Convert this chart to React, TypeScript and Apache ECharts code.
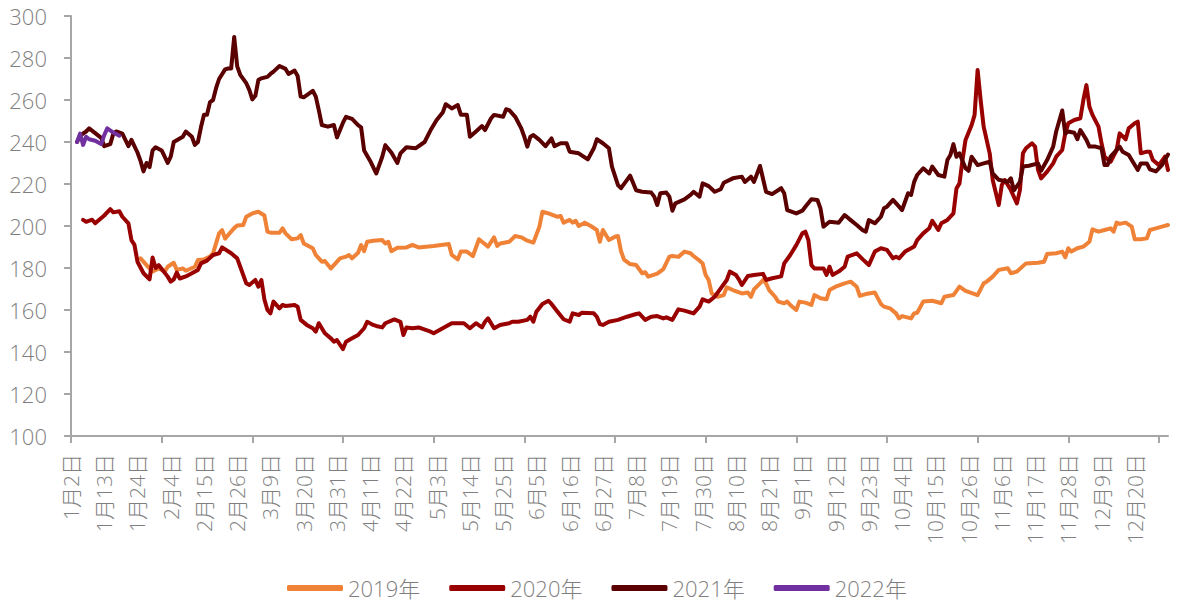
import React, { useEffect, useRef } from "react";
import * as echarts from "echarts";

// Calendar categories (non-leap year), 1月2日 … 12月31日
const monthLengths = [31, 28, 31, 30, 31, 30, 31, 31, 30, 31, 30, 31];
const categories: string[] = [];
monthLengths.forEach((len, m) => {
  for (let d = 1; d <= len; d++) {
    if (m === 0 && d === 1) continue;
    categories.push(`${m + 1}月${d}日`);
  }
});

const seriesNames = ["2019年", "2020年", "2021年", "2022年"];
const seriesColors = ["#EF8236", "#990000", "#5A0000", "#7030A0"];

// Day indices (position in categories) and values
const days2019 = [23,25,27,29,31,32,34,35,37,38,41,42,44,46,47,49,50,51,52,54,55,57,58,60,62,64,65,66,69,70,71,73,75,76,77,80,81,83,84,86,87,89,91,92,93,95,96,97,98,100,103,104,105,106,108,111,113,115,120,125,126,128,129,131,133,135,136,138,140,141,142,145,147,149,151,153,155,156,158,161,162,163,165,166,167,168,170,172,174,175,176,178,180,181,182,183,185,187,189,190,191,194,196,198,199,201,203,205,206,208,209,210,211,212,214,216,217,219,222,224,225,226,228,229,230,231,233,234,236,237,238,240,241,243,245,246,248,250,251,253,256,258,260,261,263,266,268,269,271,273,274,275,278,279,280,282,285,288,289,292,294,296,300,302,303,305,307,310,311,313,316,320,322,323,326,328,329,330,331,333,335,337,338,340,342,344,345,346,347,349,351,352,354,356,357,359,361,363];
const vals2019 = [184.6,181.4,178.3,179.8,178.3,180.6,182.5,179.1,179.8,178.7,180.6,183.8,184.1,185.4,187,196.5,198,194,195.7,199,200.2,200.5,204.4,206,206.8,205,197.3,196.8,196.8,198.9,196.5,193.7,194.1,195.7,191.7,189.4,186.2,183,183.3,179.8,181.4,184.6,185.4,186.2,184.6,187.3,190.9,188,192.5,193,193.3,191.7,192.5,188,189.6,189.8,191,189.8,190.5,191.4,186.2,184.1,187.8,187.8,185.7,193.7,192.5,190.2,194.6,190.5,191.7,192.5,195.2,194.6,193,192.1,199.7,206.8,206,204.4,204.8,201.6,202.9,201.6,202.5,200,201.6,200,198.1,192.5,198.1,193.3,194.9,195.2,188,184,181.9,181.4,177.5,178,175.9,177.3,179.5,185.4,185.7,185.3,187.8,187,185.7,183.5,182.2,176.7,174.3,167.9,166.3,167.1,170.8,169.5,167.9,168.3,166.3,169.8,172.7,174.3,172.7,169.5,166.3,164,163.2,164,162.4,160,164,163.5,162.4,167.1,165.6,165.1,169.5,171.1,172.7,173.5,171.1,166.7,167.6,168.3,162.9,161.6,160.8,158.4,156,157.1,156,158.4,158.7,164,164.4,163.2,166.3,167.1,171.1,169.1,167.1,172.7,173.5,175.9,179.1,179.9,177.5,178.3,182.2,182.5,183,186.7,187,187.8,185.1,189.4,187.8,189.4,190.2,192.5,198.4,197.3,198.1,198.9,197.3,201.6,201,201.6,199.7,193.7,193.7,194.1,198.1,198.9,199.7,200.5];

const days2020 = [4,5,7,8,11,13,14,16,17,19,20,21,22,24,26,27,28,29,32,33,34,35,36,38,40,42,43,45,47,49,50,53,55,56,58,59,61,62,63,64,65,66,67,69,70,71,74,75,76,78,80,81,82,84,86,87,88,90,91,93,95,97,98,100,101,103,104,107,109,110,111,113,115,119,120,123,126,130,132,134,136,137,138,140,142,145,146,148,151,152,153,154,156,158,159,161,163,165,166,168,169,173,174,175,176,178,181,184,187,188,190,192,194,196,197,199,201,203,206,208,209,211,213,215,217,218,220,221,222,224,226,229,230,232,235,236,238,240,242,243,244,245,246,249,250,251,252,254,256,257,260,262,264,266,268,270,272,273,274,276,278,279,280,282,284,285,287,288,290,292,293,294,295,296,298,299,300,301,302,304,305,307,308,309,311,313,314,315,316,318,319,320,321,323,325,326,328,329,330,332,334,335,336,337,338,340,341,342,344,346,347,349,350,352,353,354,356,357,358,360,362,363];
const vals2020 = [202.9,202,203,201.3,205,208,206.5,207,204.4,201.3,193.3,191,183,177.5,174.6,185,180,181.4,175.9,173.5,174.6,177.8,175,176,177.5,179.1,182.2,183.5,186.2,187,189.8,187,184.6,180.6,172.7,171.9,174.3,171.1,174.3,165,160,158.4,164,160.8,162.4,161.9,162.4,161.6,155.3,152.9,151.3,149.7,153.7,148.9,146.5,144.9,145.7,141.4,144.9,146.5,148.1,151.3,154.4,152.9,152.4,151.7,153.7,155.5,154.4,148.1,151.7,151.3,151.7,149.7,148.9,151.3,153.7,153.7,151.3,153.7,151.7,154.4,156,151.3,152.9,153.7,154.4,154.4,155.3,156.8,154.4,159.2,162.9,164.4,162.9,159.2,155.6,154.4,158.4,157.6,158.7,158.4,156.8,153.3,152.9,154.4,155.3,156.8,158.1,158.4,155.3,156.8,157.1,156,156.5,155.3,160.3,159.7,158.4,161.6,165.1,164,166.3,170.3,174.3,178.3,176.7,174.6,171.9,176.2,176.7,177.2,174.3,175.1,176,182.2,186.2,190.9,196.5,197.3,193.3,181.4,179.8,179.8,176.7,180.6,176.7,178.3,180.6,185.4,187,184.1,181.4,187.8,189.4,188.6,184.6,185.4,184.6,187.8,189.4,190.2,193.3,196.5,198.9,202.5,198.1,201.3,202.9,206,217.9,220.3,231.4,241,248,252.9,274.3,260,247.3,234.6,221.9,210,219.5,221.9,217.1,210.8,217.1,234.6,237,239.4,237.8,226.7,222.7,225.9,229.8,233,236.2,244.1,248.9,250.5,251.3,260,267.1,256.8,252.9,247.3,239.4,233,230.6,236.2,244.1,241.3,246.5,248.9,249.7,234.6,235.4,235.4,231.4,229,233,226.7];

const days2021 = [2,3,5,6,10,11,13,14,15,17,18,19,20,22,23,24,25,26,27,28,30,32,33,34,37,38,40,41,42,43,44,45,46,47,48,49,51,52,53,54,55,56,58,59,60,61,62,63,65,66,67,69,71,72,74,75,76,77,80,81,82,83,85,87,88,90,91,93,95,96,97,99,100,101,103,104,106,108,109,111,114,117,119,121,123,124,126,128,129,131,132,134,136,137,139,140,143,144,145,147,149,150,151,152,153,155,157,159,160,162,164,165,168,171,173,174,176,178,179,181,182,184,185,187,189,192,193,194,195,197,198,199,200,203,205,206,208,209,211,213,215,216,219,222,223,225,226,228,230,232,235,236,237,240,242,243,245,247,248,249,251,254,256,258,260,262,263,264,266,268,269,270,272,274,275,277,278,279,280,282,284,285,287,289,290,291,292,293,294,296,297,298,300,302,304,305,307,310,311,312,314,315,317,320,321,323,325,326,328,329,330,332,333,334,336,337,339,341,342,343,344,347,348,350,351,353,354,356,357,359,361,363];
const vals2021 = [240,243,245,246.5,242,238,239,244,245,244,241,238,241,235,231,226,230,228,236,237.5,236,230,233,240,242.5,245,242.5,238.6,240,247,253,253,259,260,265.6,270,274.6,275,275,290,276,272,268,264.8,260.3,262,269.5,270.3,271,272.4,273.5,276.2,274.8,272.4,274,271.4,261.6,261.3,264.4,261.6,255.2,248.1,247.3,248.1,242.2,249.2,252,251,248,247,236,231,228,225,233,238.5,235,230,234.6,237.5,237,240,245.7,250.5,254,258,256,257.6,253,253,242.5,245,247.6,245.7,251.3,252.9,252,255.6,255.2,252,246.5,242.5,237.8,242.5,243.3,241,238,241.7,238,239.4,239.4,235.4,234.6,231.7,237,241.3,239.4,237,228.3,219.5,218,222,224,217,216.3,215.9,214,210,215.6,215.9,214,207.3,210.8,212.7,214.8,216.3,214,220.3,219,216.3,217.5,220.6,222.7,223.5,221,223.5,221,228.6,216.3,215.2,218,215.6,207.6,206,207.3,209.2,212.7,212.4,208.4,199.7,202,201.6,205.2,202.8,200.5,198,197.3,202.8,201.3,204.4,208.4,209.2,212.4,209.2,207.6,215.6,214.8,221,224.3,227.5,225,228.3,224.3,223.5,231.4,233.8,239,233,234.6,227.5,226.3,233,229,229.8,230.6,225,222,221,222.7,217,221,228.3,228.7,229.8,226.3,231.4,237.8,245,255,244,245,244.4,241.3,245.7,241,237.8,237.8,237,229,229,233,237.8,235.4,233.8,231.4,226.7,229.8,229.8,227,226,229,234];

const days2022 = [2,3,4,5,6,8,10,11,12,14,16];
const vals2022 = [240,244,238.6,242.5,241.3,240.6,239,243.3,246.5,244.5,243];

const yMin = 100;
const yMax = 300;
const yStep = 20;
const labelEvery = 11;
const lastLabelIndex = 352; // 12月20日
const tickEvery = 30;

const font = "'Open Sans', 'Noto Sans CJK SC', sans-serif";
const textGray = "#7f7f7f";
const axisGray = "#a6a6a6";

function pairs(days: number[], vals: number[]) {
  return days.map((d, i) => [categories[d], vals[i]]);
}

export default function App() {
  const ref = useRef<HTMLDivElement>(null);
  useEffect(() => {
    if (!ref.current) return;
    const chart = echarts.init(ref.current, undefined, { renderer: "svg" });
    const allDays = [days2019, days2020, days2021, days2022];
    const allVals = [vals2019, vals2020, vals2021, vals2022];
    chart.setOption({
      animation: false,
      backgroundColor: "#ffffff",
      grid: { left: 71, right: 10, top: 16, bottom: 169, containLabel: false },
      legend: {
        data: seriesNames,
        left: 287,
        top: 577,
        padding: 0,
        itemGap: 29,
        itemWidth: 56,
        itemHeight: 6,
        icon: "roundRect",
        textStyle: { fontSize: 22, color: textGray, fontFamily: font, fontWeight: 300 },
      },
      xAxis: {
        type: "category",
        data: categories,
        boundaryGap: false,
        axisLine: { lineStyle: { color: axisGray, width: 2 } },
        axisTick: {
          interval: (i: number) => i % tickEvery === 0,
          length: 7,
          lineStyle: { color: axisGray, width: 2 },
        },
        axisLabel: {
          interval: (i: number) => i % labelEvery === 0 && i <= lastLabelIndex,
          rotate: 90,
          margin: 18,
          padding: [9, 0, 0, 0],
          fontSize: 21,
          color: textGray,
          fontFamily: font,
          fontWeight: 300,
        },
        splitLine: { show: false },
      },
      yAxis: {
        type: "value",
        min: yMin,
        max: yMax,
        interval: yStep,
        axisLine: { show: true, lineStyle: { color: axisGray, width: 2 } },
        axisTick: { show: true, length: 7, lineStyle: { color: axisGray, width: 2 } },
        axisLabel: { fontSize: 22, color: textGray, margin: 24, fontFamily: font, fontWeight: 300 },
        splitLine: { show: false },
      },
      series: seriesNames.map((name, k) => ({
        name,
        type: "line",
        data: pairs(allDays[k], allVals[k]),
        showSymbol: false,
        symbol: "none",
        smooth: false,
        connectNulls: true,
        color: seriesColors[k],
        lineStyle: { width: 4, color: seriesColors[k], cap: "round", join: "round" },
      })),
    });
    return () => chart.dispose();
  }, []);
  return (
    <div
      ref={ref}
      style={{ position: "absolute", left: 0, top: 0, width: 1178, height: 605 }}
    />
  );
}
